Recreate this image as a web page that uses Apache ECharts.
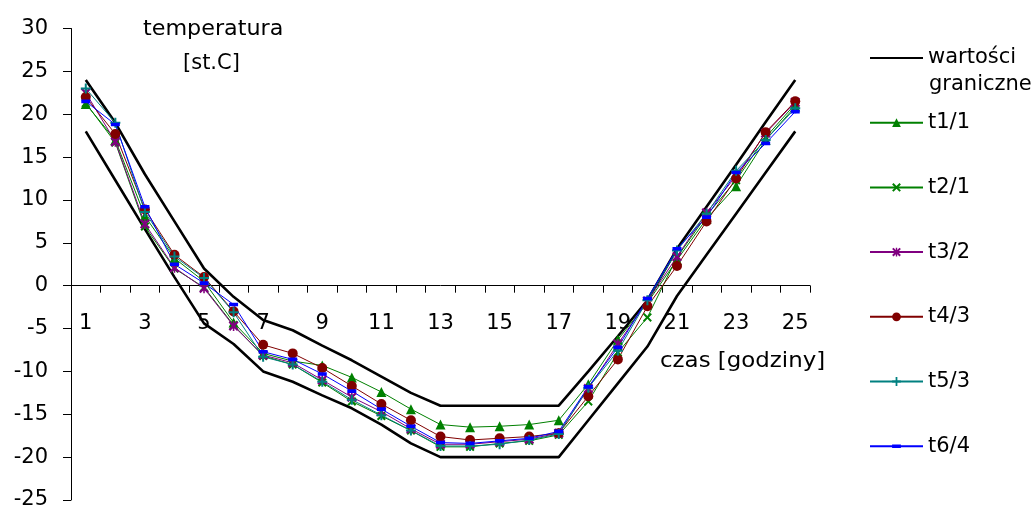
<!DOCTYPE html>
<html>
<head>
<meta charset="utf-8">
<script src="https://cdn.jsdelivr.net/npm/echarts@6/dist/echarts.min.js"></script>
<style>
html, body { margin: 0; padding: 0; background: #fff; }
#chart { width: 1035px; height: 510px; }
</style>
</head>
<body>
<div id="chart"></div>
<script>
var chart = echarts.init(document.getElementById('chart'));

// godziny 1..25
var hours = ['1','2','3','4','5','6','7','8','9','10','11','12','13','14','15','16','17','18','19','20','21','22','23','24','25'];
var yTicks = [-25, 30, 5]; // min, max, krok

// wartosci graniczne (gorna i dolna)
var upperLimit = [24, 19, 13, 7.5, 2, -1.3, -4, -5.2, -7, -8.7, -10.6, -12.5, -14, -14, -14, -14, -14, -10, -5.9, -1.7, 4.3, 9.2, 14.1, 19.1, 24];
var lowerLimit = [18, 12.3, 6.6, 1, -4.4, -6.8, -10, -11.2, -12.8, -14.3, -16.2, -18.4, -20, -20, -20, -20, -20, -15.7, -11.4, -7.1, -1.2, 3.6, 8.4, 13.2, 18];

var t1 = [21.2, 17, 8.1, 3.2, 0.5, -4.3, -7.9, -8.8, -9.3, -10.7, -12.4, -14.4, -16.2, -16.5, -16.4, -16.2, -15.7, -11.5, -6.3, -2, 3, 7.8, 11.6, 17, 20.9];
var t2 = [21.3, 16.7, 6.9, 2, -0.2, -4.6, -8.2, -9.2, -11.3, -13.5, -15.2, -16.9, -18.8, -18.8, -18.4, -18.1, -17.4, -13.5, -7.8, -3.7, 3.3, 8.2, 12.3, 17.3, 21.2];
var t3 = [22.5, 16.8, 7.2, 2.1, -0.3, -4.7, -8.1, -9, -11, -13, -14.7, -16.7, -18.5, -18.5, -18.2, -17.9, -17.2, -12, -6.8, -1.8, 3.4, 8.5, 12.8, 17.8, 21.4];
var t4 = [22, 17.7, 8.9, 3.6, 1, -3, -6.9, -7.9, -9.6, -11.7, -13.8, -15.7, -17.6, -18, -17.8, -17.6, -17.2, -12.9, -8.6, -2.4, 2.3, 7.5, 12.5, 17.9, 21.5];
var t5 = [23, 19, 8.6, 3.4, 0.9, -3.1, -8.3, -9.2, -11.2, -13.3, -15.1, -16.9, -18.7, -18.7, -18.5, -18, -17.3, -11.9, -7.6, -1.7, 4.1, 8.4, 13.4, 17, 20.7];
var t6 = [21.5, 18.8, 9.2, 2.5, 0.3, -2.2, -7.7, -8.6, -10.3, -12.3, -14.4, -16.4, -18.3, -18.4, -18.1, -17.8, -17, -11.8, -7.2, -1.5, 4.3, 8, 13.2, 16.6, 20.3];

var font = 'DejaVu Sans, sans-serif';
var fs = 21;

var gridTop = 28.5, gridBottom = 10, chartH = 510;
// przesuniecie osi X na poziom 0
var plotH = chartH - gridTop - gridBottom;
var zeroOffset = -plotH * (0 - yTicks[0]) / (yTicks[1] - yTicks[0]);

// znaczniki jak w Excelu
var symX = 'path://M0,1.6 L1.6,0 L5,3.4 L8.4,0 L10,1.6 L6.6,5 L10,8.4 L8.4,10 L5,6.6 L1.6,10 L0,8.4 L3.4,5 Z';
var symStar = 'path://M0,1.6 L1.6,0 L5,3.4 L8.4,0 L10,1.6 L6.6,5 L10,8.4 L8.4,10 L5,6.6 L1.6,10 L0,8.4 L3.4,5 Z M4.2,0 L5.8,0 L5.8,10 L4.2,10 Z';
var symPlus = 'path://M4,0 L6,0 L6,4 L10,4 L10,6 L6,6 L6,10 L4,10 L4,6 L0,6 L0,4 L4,4 Z';
// kreska w kwadratowym polu (rogi tylko wyznaczaja obrys)
var symDash = 'path://M0,0 L0.01,0 L0,0.01 Z M0,3 L10,3 L10,7 L0,7 Z M10,10 L9.99,10 L10,9.99 Z';

function lineSeries(name, data, color, symbol, size) {
    return {
        name: name,
        type: 'line',
        data: data,
        symbol: symbol,
        symbolSize: size,
        showAllSymbol: true,
        lineStyle: { color: color, width: 1 },
        itemStyle: { color: color },
        emphasis: { disabled: true }
    };
}

var option = {
    animation: false,
    backgroundColor: '#fff',
    grid: {
        left: 71,
        right: 225,
        top: gridTop,
        bottom: gridBottom,
        containLabel: false,
        outerBoundsMode: 'none'
    },
    legend: {
        orient: 'vertical',
        left: 869,
        top: 46,
        padding: 0,
        itemWidth: 53,
        itemHeight: 11,
        itemGap: 40.7,
        selectedMode: false,
        textStyle: { fontFamily: font, fontSize: fs, color: '#000', lineHeight: 24 },
        formatter: function (name) {
            if (name === 'wartości graniczne') {
                return 'wartości';
            }
            return name;
        },
        data: [
            { name: 'wartości graniczne', itemStyle: { opacity: 0 } },
            't1/1', 't2/1', 't3/2', 't4/3', 't5/3', 't6/4'
        ]
    },
    graphic: [
        { type: 'text', left: 929, top: 74, style: { text: 'graniczne', fontFamily: font, fontSize: fs, fill: '#000' } },
        { type: 'text', left: 143, top: 19, scaleX: 1.06, style: { text: 'temperatura', fontFamily: font, fontSize: fs, fill: '#000' } },
        { type: 'text', left: 183, top: 53, style: { text: '[st.C]', fontFamily: font, fontSize: fs, fill: '#000' } },
        { type: 'text', left: 660, top: 351, scaleX: 1.09, style: { text: 'czas [godziny]', fontFamily: font, fontSize: fs, fill: '#000' } }
    ],
    xAxis: {
        type: 'category',
        data: hours,
        boundaryGap: true,
        offset: zeroOffset,
        axisLine: { onZero: false, lineStyle: { color: '#000', width: 1 } },
        axisTick: { show: true, interval: 0, length: 7, lineStyle: { color: '#000' } },
        axisLabel: { interval: 1, margin: 27, color: '#000', fontFamily: font, fontSize: fs },
        splitLine: { show: false }
    },
    yAxis: {
        type: 'value',
        min: yTicks[0],
        max: yTicks[1],
        interval: yTicks[2],
        axisLine: { show: true, lineStyle: { color: '#000', width: 1 } },
        axisTick: { show: true, length: 8, lineStyle: { color: '#000' } },
        axisLabel: { margin: 23, color: '#000', fontFamily: font, fontSize: fs },
        splitLine: { show: false }
    },
    series: [
        {
            name: 'wartości graniczne',
            type: 'line',
            data: upperLimit,
            symbol: 'none',
            lineStyle: { color: '#000', width: 2.6 },
            itemStyle: { color: '#000' },
            emphasis: { disabled: true }
        },
        {
            name: 'wartości graniczne',
            type: 'line',
            data: lowerLimit,
            symbol: 'none',
            lineStyle: { color: '#000', width: 2.6 },
            itemStyle: { color: '#000' },
            emphasis: { disabled: true }
        },
        lineSeries('t1/1', t1, '#008000', 'triangle', 10),
        lineSeries('t2/1', t2, '#008000', symX, 9),
        lineSeries('t3/2', t3, '#800080', symStar, 10),
        lineSeries('t4/3', t4, '#800000', 'circle', 10),
        lineSeries('t5/3', t5, '#008080', symPlus, 10),
        lineSeries('t6/4', t6, '#0000ff', symDash, 9)
    ]
};

chart.setOption(option);
</script>
</body>
</html>
